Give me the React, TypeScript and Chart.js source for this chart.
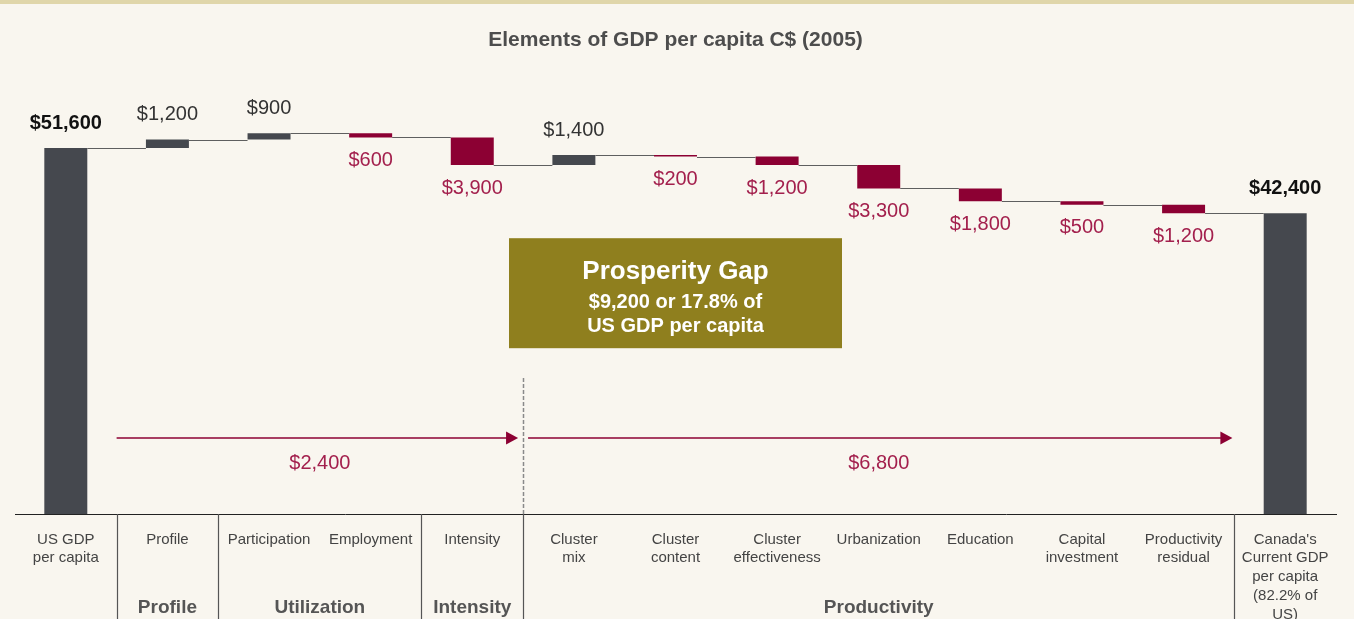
import React, { useEffect, useRef } from "react";
import { Chart, registerables } from "chart.js";

Chart.register(...registerables);

// ---------- data ----------
const categories: string[][] = [
  ["US GDP", "per capita"],
  ["Profile"],
  ["Participation"],
  ["Employment"],
  ["Intensity"],
  ["Cluster", "mix"],
  ["Cluster", "content"],
  ["Cluster", "effectiveness"],
  ["Urbanization"],
  ["Education"],
  ["Capital", "investment"],
  ["Productivity", "residual"],
  ["Canada's", "Current GDP", "per capita", "(82.2% of", "US)"],
];
const startValue = 51600;
const changes = [1200, 900, -600, -3900, 1400, -200, -1200, -3300, -1800, -500, -1200];
const endValue = 42400;
const valueLabels = [
  "$51,600", "$1,200", "$900", "$600", "$3,900", "$1,400", "$200",
  "$1,200", "$3,300", "$1,800", "$500", "$1,200", "$42,400",
];
const groupLabels = ["Profile", "Utilization", "Intensity", "Productivity"];
const groupFrom = [1, 2, 4, 5];
const groupTo = [1, 3, 4, 11];
const separatorAfter = [0, 1, 3, 4, 11];
const phaseLabels = ["$2,400", "$6,800"];
const phaseFrom = [1, 5];
const phaseTo = [4, 11];
const gapTitle = "Prosperity Gap";
const gapLines = ["$9,200 or 17.8% of", "US GDP per capita"];
const chartTitle = "Elements of GDP per capita C$ (2005)";

// ---------- styles ----------
const FONT = "'Liberation Sans', Arial, Helvetica, sans-serif";
const SLATE = "#45484E";
const CRIMSON = "#8C0033";
const CRIMSON_TEXT = "#A3204D";
const BG = "#F9F6EF";
const OLIVE = "#8F7F1E";

export default function App() {
  const ref = useRef<HTMLCanvasElement>(null);

  useEffect(() => {
    document.body.style.margin = "0";
    const canvas = ref.current!;

    const ranges: [number, number][] = [];
    const levels: number[] = [];
    ranges.push([0, startValue]);
    levels.push(startValue);
    let run = startValue;
    changes.forEach((c) => {
      const next = run + c;
      ranges.push([Math.min(run, next), Math.max(run, next)]);
      run = next;
      levels.push(run);
    });
    ranges.push([0, endValue]);
    levels.push(endValue);
    const kinds = ["total", ...changes.map((c) => (c >= 0 ? "up" : "down")), "total"];
    const colors = kinds.map((k) => (k === "down" ? CRIMSON : SLATE));

    const decor = {
      id: "waterfallDecor",
      beforeDraw(chart: any) {
        const { ctx, width, height } = chart;
        ctx.save();
        ctx.fillStyle = BG;
        ctx.fillRect(0, 0, width, height);
        ctx.fillStyle = "#E0D6AA";
        ctx.fillRect(0, 0, width, 4);
        ctx.restore();
      },
      afterDatasetsDraw(chart: any) {
        const { ctx, chartArea } = chart;
        const xs = chart.scales.x;
        const ys = chart.scales.y;
        const meta = chart.getDatasetMeta(0);
        const n = categories.length;
        const px = (i: number) => xs.getPixelForValue(i);
        const boundary = (i: number) => (px(i) + px(i + 1)) / 2;
        ctx.save();

        // connectors
        ctx.strokeStyle = "#5f5f5f";
        ctx.lineWidth = 1;
        for (let i = 0; i < n - 1; i++) {
          const b0 = meta.data[i];
          const b1 = meta.data[i + 1];
          const y = Math.round(ys.getPixelForValue(levels[i])) + 0.5;
          ctx.beginPath();
          ctx.moveTo(b0.x + b0.width / 2, y);
          ctx.lineTo(b1.x - b1.width / 2, y);
          ctx.stroke();
        }

        // value labels
        ctx.textAlign = "center";
        ctx.textBaseline = "middle";
        for (let i = 0; i < n; i++) {
          const k = kinds[i];
          const x = px(i);
          if (k === "total") {
            ctx.font = `bold 20px ${FONT}`;
            ctx.fillStyle = "#111";
            ctx.fillText(valueLabels[i], x, ys.getPixelForValue(ranges[i][1]) - 25);
          } else if (k === "up") {
            ctx.font = `20px ${FONT}`;
            ctx.fillStyle = "#333";
            ctx.fillText(valueLabels[i], x, ys.getPixelForValue(ranges[i][1]) - 25);
          } else {
            ctx.font = `20px ${FONT}`;
            ctx.fillStyle = CRIMSON_TEXT;
            ctx.fillText(valueLabels[i], x, ys.getPixelForValue(ranges[i][0]) + 23);
          }
        }

        // prosperity gap box
        const bx = px(6);
        const boxW = 333;
        const boxTop = chartArea.top + 176;
        const boxH = 110;
        ctx.fillStyle = OLIVE;
        ctx.fillRect(bx - boxW / 2, boxTop, boxW, boxH);
        ctx.fillStyle = "#ffffff";
        ctx.font = `bold 26px ${FONT}`;
        ctx.fillText(gapTitle, bx, boxTop + 34);
        ctx.font = `bold 20px ${FONT}`;
        ctx.fillText(gapLines[0], bx, boxTop + 64);
        ctx.fillText(gapLines[1], bx, boxTop + 88);

        // dashed divider
        const dvx = Math.round(boundary(4)) + 0.5;
        ctx.strokeStyle = "#8a8a8a";
        ctx.lineWidth = 1.5;
        ctx.setLineDash([4, 2]);
        ctx.beginPath();
        ctx.moveTo(dvx, chartArea.bottom - 136);
        ctx.lineTo(dvx, chartArea.bottom);
        ctx.stroke();
        ctx.setLineDash([]);

        // phase arrows
        const ay = chartArea.bottom - 76;
        for (let p = 0; p < phaseLabels.length; p++) {
          const x0 = boundary(phaseFrom[p] - 1) + (p === 0 ? 0 : 5);
          const x1 = boundary(phaseTo[p]) - (p === 0 ? 5 : 2);
          ctx.strokeStyle = CRIMSON;
          ctx.lineWidth = 1.5;
          ctx.beginPath();
          ctx.moveTo(x0, ay);
          ctx.lineTo(x1 - 10, ay);
          ctx.stroke();
          ctx.fillStyle = CRIMSON;
          ctx.beginPath();
          ctx.moveTo(x1, ay);
          ctx.lineTo(x1 - 12, ay - 6.5);
          ctx.lineTo(x1 - 12, ay + 6.5);
          ctx.closePath();
          ctx.fill();
          ctx.font = `20px ${FONT}`;
          ctx.fillStyle = CRIMSON_TEXT;
          const cx = (boundary(phaseFrom[p] - 1) + boundary(phaseTo[p])) / 2;
          ctx.fillText(phaseLabels[p], cx, ay + 25);
        }

        // separators under axis
        ctx.strokeStyle = "#555";
        ctx.lineWidth = 1.2;
        separatorAfter.forEach((i) => {
          const x = Math.round(boundary(i)) + 0.5;
          ctx.beginPath();
          ctx.moveTo(x, chartArea.bottom);
          ctx.lineTo(x, chart.height);
          ctx.stroke();
        });

        // group labels
        ctx.font = `bold 19px ${FONT}`;
        ctx.fillStyle = "#555";
        for (let g = 0; g < groupLabels.length; g++) {
          const cx = (boundary(groupFrom[g] - 1) + boundary(groupTo[g])) / 2;
          ctx.fillText(groupLabels[g], cx, chartArea.bottom + 94);
        }
        ctx.restore();
      },
    };

    const chart = new Chart(canvas, {
      type: "bar",
      data: {
        labels: categories,
        datasets: [
          {
            data: ranges as any,
            backgroundColor: colors,
            borderWidth: 0,
            barPercentage: 0.423,
            categoryPercentage: 1,
          },
        ],
      },
      options: {
        responsive: false,
        animation: false,
        devicePixelRatio: 1,
        layout: { padding: { top: 0, left: 15, right: 18, bottom: 0 } },
        plugins: {
          legend: { display: false },
          tooltip: { enabled: false },
          title: {
            display: true,
            text: chartTitle,
            color: "#4d4d4d",
            font: { family: FONT, size: 21, weight: "bold" },
            padding: { top: 28, bottom: 9 },
          },
        },
        scales: {
          x: {
            grid: { display: false, drawTicks: false },
            border: { display: true, color: "#222", width: 1 },
            ticks: {
              autoSkip: false,
              maxRotation: 0,
              minRotation: 0,
              padding: 16,
              color: "#444",
              font: { family: FONT, size: 15, lineHeight: 1.25 },
            },
            afterFit: (scale: any) => {
              scale.height = 105;
            },
          },
          y: {
            display: false,
            min: 0,
            max: 63700,
          },
        },
      },
      plugins: [decor],
    });

    return () => chart.destroy();
  }, []);

  return (
    <div style={{ position: "fixed", left: 0, top: 0, width: 1354, height: 619 }}>
      <canvas ref={ref} width={1354} height={619} />
    </div>
  );
}
